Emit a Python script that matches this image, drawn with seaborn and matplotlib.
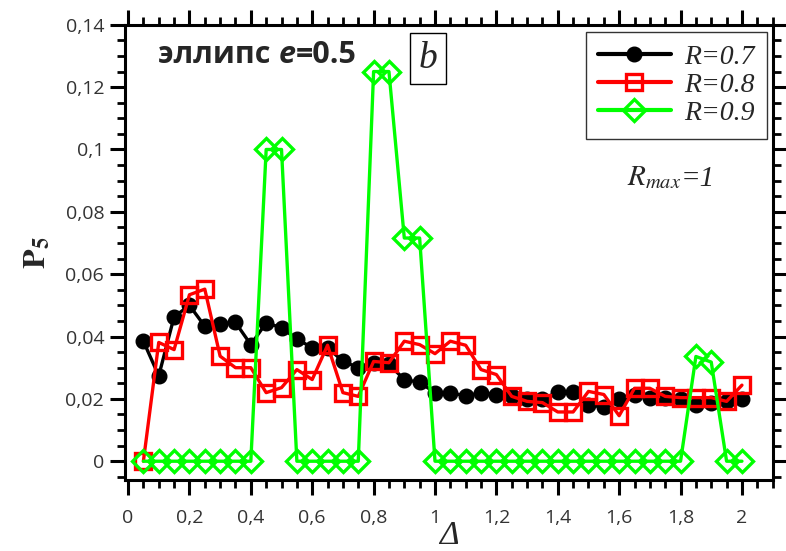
import matplotlib
matplotlib.use("Agg")
import matplotlib.pyplot as plt
from matplotlib.ticker import MultipleLocator, FuncFormatter
import numpy as np
import pandas as pd
import seaborn as sns

# ── data ─────────────────────────────────────────────────────────────────────
delta = [0.05, 0.10, 0.15, 0.20, 0.25, 0.30, 0.35, 0.40, 0.45, 0.50,
         0.55, 0.60, 0.65, 0.70, 0.75, 0.80, 0.85, 0.90, 0.95, 1.00,
         1.05, 1.10, 1.15, 1.20, 1.25, 1.30, 1.35, 1.40, 1.45, 1.50,
         1.55, 1.60, 1.65, 1.70, 1.75, 1.80, 1.85, 1.90, 1.95, 2.00]

p5_r07 = [0.0385, 0.0274, 0.0463, 0.0500, 0.0433, 0.0441, 0.0445, 0.0374, 0.0444, 0.0428,
          0.0392, 0.0364, 0.0364, 0.0321, 0.0300, 0.0316, 0.0311, 0.0262, 0.0253, 0.0220,
          0.0219, 0.0210, 0.0219, 0.0214, 0.0208, 0.0200, 0.0198, 0.0222, 0.0222, 0.0181,
          0.0173, 0.0198, 0.0213, 0.0204, 0.0204, 0.0198, 0.0181, 0.0188, 0.0192, 0.0198]

p5_r08 = [0.0, 0.0381, 0.0358, 0.0534, 0.0552, 0.0337, 0.0300, 0.0300, 0.0220, 0.0236,
          0.0294, 0.0262, 0.0372, 0.0220, 0.0208, 0.0320, 0.0316, 0.0385, 0.0374, 0.0345,
          0.0385, 0.0372, 0.0294, 0.0278, 0.0208, 0.0192, 0.0188, 0.0158, 0.0158, 0.0224,
          0.0214, 0.0146, 0.0234, 0.0234, 0.0208, 0.0204, 0.0204, 0.0204, 0.0192, 0.0244]

p5_r09 = [0, 0, 0, 0, 0, 0, 0, 0, 0.1, 0.1,
          0, 0, 0, 0, 0, 0.125, 0.125, 0.0716, 0.0716, 0,
          0, 0, 0, 0, 0, 0, 0, 0, 0, 0,
          0, 0, 0, 0, 0, 0, 0.0336, 0.0318, 0, 0]

LABELS = ["R=0.7", "R=0.8", "R=0.9"]
COLORS = ["#000000", "#ff0000", "#00ff00"]

df = pd.DataFrame({"delta": delta * 3,
                   "p5": p5_r07 + p5_r08 + p5_r09,
                   "R": sum([[l] * len(delta) for l in LABELS], [])})

sns.set_style("white")
plt.rcParams["mathtext.fontset"] = "stix"
plt.rcParams["font.family"] = ["Open Sans", "DejaVu Sans"]
SERIF = "Liberation Serif"

fig = plt.figure(figsize=(7.86, 5.51), dpi=100)
ax = fig.add_axes([0.159, 0.129, 0.824, 0.826])

styles = {
    "R=0.7": dict(marker="o", markersize=10.5, mfc="#000000", mec="#000000", mew=1),
    "R=0.8": dict(marker="s", markersize=12, mfc="none", mec="#ff0000", mew=2.4),
    "R=0.9": dict(marker="D", markersize=11, mfc="none", mec="#00ff00", mew=2.4),
}
for lbl, col in zip(LABELS, COLORS):
    sub = df[df["R"] == lbl]
    sns.lineplot(data=sub, x="delta", y="p5", color=col, lw=2.4, sort=False,
                 errorbar=None, label=lbl, ax=ax, **styles[lbl])

ax.set_xlim(-0.01, 2.1)
ax.set_ylim(-0.006, 0.14)
ax.xaxis.set_major_locator(MultipleLocator(0.2))
ax.xaxis.set_minor_locator(MultipleLocator(0.05))
ax.yaxis.set_major_locator(MultipleLocator(0.02))
ax.yaxis.set_minor_locator(MultipleLocator(0.005))
comma = FuncFormatter(lambda v, p: ("%g" % round(v, 3)).replace(".", ","))
ax.xaxis.set_major_formatter(comma)
ax.yaxis.set_major_formatter(comma)

for s in ax.spines.values():
    s.set_linewidth(2.2)
    s.set_color("black")
ax.tick_params(which="both", direction="out", top=True, right=True,
               bottom=True, left=True, labeltop=False, labelright=False,
               color="black")
ax.tick_params(which="major", length=11, width=2.2, labelsize=14,
               labelcolor="#333333", pad=4)
ax.tick_params(axis="x", which="major", pad=10)
ax.tick_params(which="minor", length=6, width=2)

ax.set_xlabel("Δ", fontsize=24, family=SERIF, style="italic", labelpad=-5)
ax.set_ylabel(r"$\mathbf{P}_\mathbf{5}$", fontsize=23, labelpad=8)

t1 = ax.text(0.051, 0.916, "эллипс ", transform=ax.transAxes, fontsize=22,
             fontweight="bold", va="baseline")
t2 = ax.annotate("e", xy=(1, 0), xycoords=t1, fontsize=22, fontweight="bold",
                 style="italic", va="bottom")
ax.annotate("=0.5", xy=(1, 0), xycoords=t2, fontsize=22, fontweight="bold",
            va="bottom")

ax.text(0.468, 0.925, "b", transform=ax.transAxes, fontsize=27, family=SERIF,
        style="italic", ha="center", va="center",
        bbox=dict(boxstyle="square,pad=0.22", fc="white", ec="black", lw=1))
r1 = ax.text(0.775, 0.648, r"$\mathit{R_{max}}$", transform=ax.transAxes,
             fontsize=21, ha="left", va="baseline")
ax.annotate("=1", xy=(1, 0), xycoords=r1, fontsize=21, family=SERIF,
            style="italic", va="bottom")

leg = ax.legend(loc="upper right", bbox_to_anchor=(0.992, 0.985),
                borderaxespad=0, prop=dict(family=SERIF, style="italic", size=20),
                frameon=True, fancybox=False, edgecolor="black",
                handlelength=2.6, handletextpad=0.5, labelspacing=0.1,
                borderpad=0.45)
leg.get_frame().set_linewidth(1.0)
for line in leg.get_lines():
    line.set_linewidth(3)

fig.savefig("out.png", dpi=100)
